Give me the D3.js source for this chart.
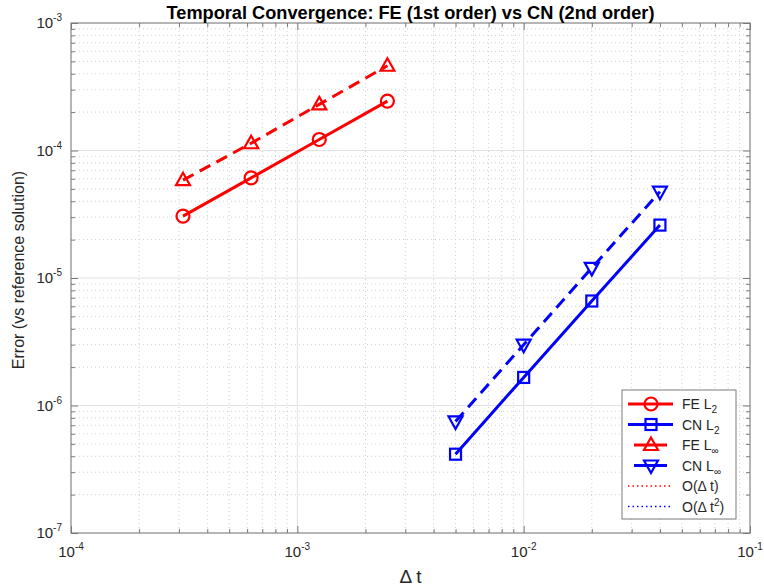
<!DOCTYPE html>
<html>
<head>
<meta charset="utf-8">
<script src="https://cdn.jsdelivr.net/npm/d3@7"></script>
<style>
  body { margin: 0; background: #fff; }
  svg { font-family: "Liberation Sans", Arial, Helvetica, sans-serif; }
</style>
</head>
<body>
<div id="chart"></div>
<script>
// Time steps
const dtFE = [3.125e-4, 6.25e-4, 1.25e-3, 2.5e-3];
const dtCN = [5e-3, 1e-2, 2e-2, 4e-2];

// Errors
const feL2 = [3.06e-5, 6.1e-5, 1.22e-4, 2.44e-4];
const feLinf = [5.85e-5, 1.14e-4, 2.3e-4, 4.62e-4];
const cnL2 = [4.15e-7, 1.66e-6, 6.6e-6, 2.6e-5];
const cnLinf = [7.5e-7, 3.0e-6, 1.2e-5, 4.75e-5];

const xDecades = [-4, -3, -2, -1];
const yDecades = [-7, -6, -5, -4, -3];

const series = [
    { label: 'FE L', sub: '2', x: dtFE, y: feL2, color: '#ff0000', dash: null, marker: 'circle' },
    { label: 'CN L', sub: '2', x: dtCN, y: cnL2, color: '#0000ff', dash: null, marker: 'square' },
    { label: 'FE L', sub: '∞', x: dtFE, y: feLinf, color: '#ff0000', dash: '12,7', marker: 'up' },
    { label: 'CN L', sub: '∞', x: dtCN, y: cnLinf, color: '#0000ff', dash: '12,7', marker: 'down' }
];

const W = 764, H = 588;
const margin = { top: 23, right: 14, bottom: 55, left: 71 };
const width = W - margin.left - margin.right;
const height = H - margin.top - margin.bottom;

const svg = d3.select('#chart').append('svg')
    .attr('width', W).attr('height', H);
const g = svg.append('g').attr('transform', `translate(${margin.left},${margin.top})`);

const x = d3.scaleLog().domain([1e-4, 1e-1]).range([0, width]);
const y = d3.scaleLog().domain([1e-7, 1e-3]).range([height, 0]);

const majorX = xDecades.map(e => Math.pow(10, e));
const majorY = yDecades.map(e => Math.pow(10, e));
const minorOf = decs => {
    const out = [];
    decs.slice(0, -1).forEach(e => {
        for (let k = 2; k <= 9; k++) out.push(k * Math.pow(10, e));
    });
    return out;
};
const minorX = minorOf(xDecades);
const minorY = minorOf(yDecades);

// Grid lines: minor dotted, major solid
g.append('g').selectAll('line').data(minorX).enter().append('line')
    .attr('x1', d => x(d)).attr('x2', d => x(d)).attr('y1', 0).attr('y2', height)
    .attr('stroke', '#cfcfcf').attr('stroke-width', 1).attr('stroke-dasharray', '1,3');
g.append('g').selectAll('line').data(minorY).enter().append('line')
    .attr('y1', d => y(d)).attr('y2', d => y(d)).attr('x1', 0).attr('x2', width)
    .attr('stroke', '#cfcfcf').attr('stroke-width', 1).attr('stroke-dasharray', '1,3');
g.append('g').selectAll('line').data(majorX).enter().append('line')
    .attr('x1', d => x(d)).attr('x2', d => x(d)).attr('y1', 0).attr('y2', height)
    .attr('stroke', '#e2e2e2').attr('stroke-width', 1);
g.append('g').selectAll('line').data(majorY).enter().append('line')
    .attr('y1', d => y(d)).attr('y2', d => y(d)).attr('x1', 0).attr('x2', width)
    .attr('stroke', '#e2e2e2').attr('stroke-width', 1);

// Ticks on all four sides, pointing in
const axisColor = '#7a7a7a';
const addAxis = (axisFn, scale, vals, size, transform) => {
    const a = g.append('g')
        .attr('transform', transform)
        .call(axisFn(scale).tickValues(vals).tickSizeInner(-size).tickSizeOuter(0).tickFormat(''));
    a.select('.domain').remove();
    a.selectAll('line').attr('stroke', axisColor);
};
addAxis(d3.axisBottom, x, majorX, 7, `translate(0,${height})`);
addAxis(d3.axisBottom, x, minorX, 4, `translate(0,${height})`);
addAxis(d3.axisTop, x, majorX, 7, 'translate(0,0)');
addAxis(d3.axisTop, x, minorX, 4, 'translate(0,0)');
addAxis(d3.axisLeft, y, majorY, 7, 'translate(0,0)');
addAxis(d3.axisLeft, y, minorY, 4, 'translate(0,0)');
addAxis(d3.axisRight, y, majorY, 7, `translate(${width},0)`);
addAxis(d3.axisRight, y, minorY, 4, `translate(${width},0)`);

g.append('rect')
    .attr('x', 0).attr('y', 0).attr('width', width).attr('height', height)
    .attr('fill', 'none').attr('stroke', axisColor).attr('stroke-width', 1);

// Tick labels with superscripts
const tickColor = '#262626';
xDecades.forEach(e => {
    const t = g.append('text')
        .attr('x', x(Math.pow(10, e)))
        .attr('y', height + 24)
        .attr('text-anchor', 'middle')
        .attr('fill', tickColor)
        .style('font-size', '15px');
    t.append('tspan').text('10');
    t.append('tspan').attr('dy', -7).style('font-size', '10px').text(String(e));
});
yDecades.forEach(e => {
    const t = g.append('text')
        .attr('x', -9)
        .attr('y', y(Math.pow(10, e)) + 5)
        .attr('text-anchor', 'end')
        .attr('fill', tickColor)
        .style('font-size', '15px');
    t.append('tspan').text('10');
    t.append('tspan').attr('dy', -7).style('font-size', '10px').text(String(e));
});

// Axis labels and title
g.append('text')
    .attr('x', width / 2).attr('y', height + 50)
    .attr('text-anchor', 'middle').attr('fill', tickColor)
    .style('font-size', '19px')
    .text('Δ t');

g.append('text')
    .attr('transform', 'rotate(-90)')
    .attr('x', -height / 2 + 8).attr('y', -47)
    .attr('text-anchor', 'middle').attr('fill', tickColor)
    .style('font-size', '16px')
    .text('Error (vs reference solution)');

g.append('text')
    .attr('x', width / 2).attr('y', -4)
    .attr('text-anchor', 'middle').attr('fill', '#000')
    .attr('textLength', 488).attr('lengthAdjust', 'spacingAndGlyphs')
    .style('font-size', '18px').style('font-weight', 'bold')
    .text('Temporal Convergence: FE (1st order) vs CN (2nd order)');

// Marker drawing
const drawMarker = (sel, type, color) => {
    if (type === 'circle') {
        sel.append('circle').attr('r', 6.5);
    } else if (type === 'square') {
        sel.append('rect').attr('x', -5.5).attr('y', -5.5).attr('width', 11).attr('height', 11);
    } else if (type === 'up') {
        sel.append('path').attr('d', 'M0,-7.5L7,5L-7,5Z');
    } else {
        sel.append('path').attr('d', 'M0,7.5L7,-5L-7,-5Z');
    }
    sel.selectAll('circle,rect,path')
        .attr('fill', 'none').attr('stroke', color).attr('stroke-width', 2.2);
};

// Data series
const line = d3.line().x(d => x(d[0])).y(d => y(d[1]));
series.forEach(s => {
    const pts = s.x.map((v, i) => [v, s.y[i]]);
    g.append('path')
        .datum(pts)
        .attr('d', line)
        .attr('fill', 'none')
        .attr('stroke', s.color)
        .attr('stroke-width', 3)
        .attr('stroke-dasharray', s.dash);
    pts.forEach(p => {
        const m = g.append('g').attr('transform', `translate(${x(p[0])},${y(p[1])})`);
        drawMarker(m, s.marker, s.color);
    });
});

// Legend
const legendItems = series.map(s => ({ ...s, kind: 'series' })).concat([
    { label: 'O(Δ t)', color: '#ff0000', kind: 'ref' },
    { label: 'O(Δ t', sup: '2', color: '#0000ff', kind: 'ref' }
]);
const lx = 622 - margin.left, ly = 390 - margin.top;
const legend = g.append('g').attr('transform', `translate(${lx},${ly})`);
legend.append('rect')
    .attr('width', 114).attr('height', 129)
    .attr('fill', '#fff').attr('stroke', axisColor).attr('stroke-width', 1);

legendItems.forEach((d, i) => {
    const cy = 14 + i * 20.5;
    const row = legend.append('g').attr('transform', `translate(0,${cy})`);
    if (d.kind === 'series') {
        const full = d.marker === 'circle' || d.marker === 'square';
        const x1 = full ? 6 : 12, x2 = full ? 51 : 45;
        row.append('line').attr('x1', x1).attr('x2', x2).attr('y1', 0).attr('y2', 0)
            .attr('stroke', d.color).attr('stroke-width', 3);
        const m = row.append('g').attr('transform', 'translate(29,0)');
        drawMarker(m, d.marker, d.color);
    } else {
        row.append('line').attr('x1', 6).attr('x2', 51).attr('y1', 0).attr('y2', 0)
            .attr('stroke', d.color).attr('stroke-width', 1.5).attr('stroke-dasharray', '1.5,3');
    }
    const t = row.append('text').attr('x', 60).attr('y', 5)
        .attr('fill', tickColor).style('font-size', '14px');
    t.append('tspan').text(d.label);
    if (d.sub) t.append('tspan').attr('dy', 4).style('font-size', '10px').text(d.sub);
    if (d.sup) {
        t.append('tspan').attr('dy', -6).style('font-size', '10px').text(d.sup);
        t.append('tspan').attr('dy', 6).text(')');
    }
});
</script>
</body>
</html>
